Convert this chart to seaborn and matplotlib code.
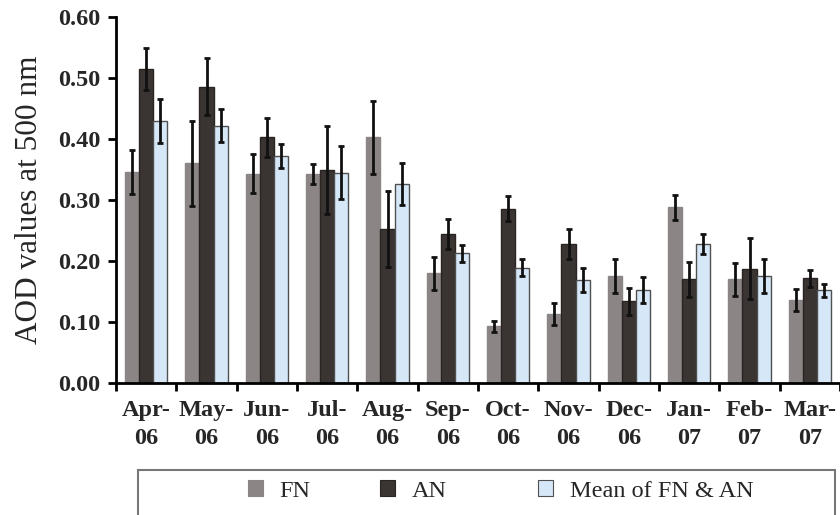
import matplotlib
matplotlib.use("Agg")
import matplotlib.pyplot as plt
from matplotlib.patches import Rectangle, Patch
import numpy as np
import pandas as pd
import seaborn as sns

# Monthly aerosol optical depth at 500 nm, Apr 2006 - Mar 2007
months = ["Apr-\n06", "May-\n06", "Jun-\n06", "Jul-\n06", "Aug-\n06", "Sep-\n06",
          "Oct-\n06", "Nov-\n06", "Dec-\n06", "Jan-\n07", "Feb-\n07", "Mar-\n07"]
series = ["FN", "AN", "Mean of FN & AN"]

fn_values = [0.346, 0.360, 0.343, 0.343, 0.403, 0.180, 0.093, 0.113, 0.175, 0.288, 0.170, 0.136]
an_values = [0.515, 0.486, 0.403, 0.349, 0.252, 0.244, 0.286, 0.228, 0.134, 0.170, 0.187, 0.172]
mean_values = [0.430, 0.422, 0.372, 0.345, 0.326, 0.213, 0.189, 0.169, 0.152, 0.228, 0.176, 0.152]

fn_errors = [0.036, 0.070, 0.032, 0.016, 0.060, 0.027, 0.009, 0.018, 0.028, 0.020, 0.027, 0.018]
an_errors = [0.035, 0.047, 0.032, 0.072, 0.062, 0.025, 0.020, 0.024, 0.022, 0.029, 0.050, 0.014]
mean_errors = [0.036, 0.027, 0.020, 0.043, 0.035, 0.014, 0.014, 0.020, 0.021, 0.017, 0.028, 0.011]

colors = ["#8b8685", "#3a3533", "#d6e7f7"]
edges = ["#8b8685", "#2a2523", "#505050"]

df = pd.DataFrame({
    "month": months * 3,
    "series": [series[0]] * 12 + [series[1]] * 12 + [series[2]] * 12,
    "aod": fn_values + an_values + mean_values,
    "err": fn_errors + an_errors + mean_errors,
})

sns.set_style("white")
plt.rcParams["font.family"] = ["Liberation Serif", "DejaVu Serif"]

fig = plt.figure(figsize=(8.4, 5.15), dpi=100)
ax = fig.add_axes([116 / 840, 1 - 383 / 515, 724 / 840, 366 / 515])

sns.barplot(data=df, x="month", y="aod", hue="series", hue_order=series,
            palette=colors, width=0.7, errorbar=None, saturation=1,
            legend=False, ax=ax)

# colour edges per series and attach error bars at each bar's centre
bars = [p for p in ax.patches if isinstance(p, Rectangle)]
for bar, (_, row) in zip(bars, df.iterrows()):
    k = series.index(row["series"])
    bar.set_edgecolor(edges[k])
    bar.set_linewidth(1.0)
    cx = bar.get_x() + bar.get_width() / 2
    ax.errorbar(cx, row["aod"], yerr=row["err"], fmt="none", ecolor="#111111",
                elinewidth=2.0, capsize=2.4, capthick=2.0, zorder=5)

ax.set_xlim(-0.5, 11.5)
ax.set_ylim(0, 0.6)
ax.set_yticks(np.arange(0, 0.61, 0.1))
ax.set_yticklabels([f"{v:.2f}" for v in np.arange(0, 0.61, 0.1)],
                   fontsize=17.5, fontweight="bold")

# month boundaries carry the tick marks, labels sit at the group centres
ax.set_xticks(np.arange(-0.5, 12, 1.0))
ax.set_xticklabels([])
ax.set_xticks(np.arange(12), minor=True)
ax.set_xticklabels(months, minor=True, fontsize=17.5, fontweight="bold",
                   linespacing=1.45)
ax.tick_params(axis="x", which="minor", length=0, pad=12)
ax.tick_params(axis="x", which="major", direction="out", length=6, width=2,
               color="black", bottom=True)
ax.tick_params(axis="y", direction="out", length=6, width=2, color="black",
               left=True, pad=5)

for side in ["top", "right"]:
    ax.spines[side].set_visible(False)
for side in ["left", "bottom"]:
    ax.spines[side].set_color("black")
    ax.spines[side].set_linewidth(2)

ax.set_xlabel("")
ax.set_ylabel("AOD values at 500 nm", fontsize=22.5, labelpad=10)

# boxed legend below the plot, one entry per series
fig.patches.append(Rectangle((138 / 840, -0.05), (835 - 138) / 840, 0.05 + 45 / 515,
                             transform=fig.transFigure, fill=False,
                             edgecolor="#777777", linewidth=1.5))
entry_x = [248, 380, 538]
for k in range(3):
    handle = Patch(facecolor=colors[k], edgecolor=edges[k], linewidth=0.8)
    fig.legend([handle], [series[k]], loc="center left",
               bbox_to_anchor=(entry_x[k] / 840, 1 - 491 / 515), frameon=False,
               fontsize=17.5, handlelength=0.6, handleheight=0.6,
               handletextpad=0.7, borderpad=0, borderaxespad=0)

fig.savefig("out.png", dpi=100)
